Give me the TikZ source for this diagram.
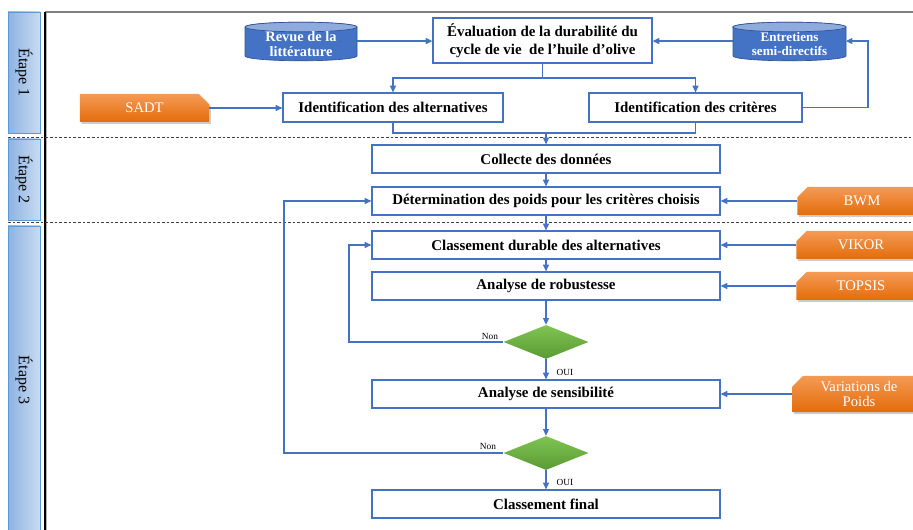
\documentclass[tikz,border=0pt]{standalone}
\usepackage{fontspec}
\setmainfont{Liberation Serif}
\usetikzlibrary{arrows.meta,shapes.geometric,shapes.misc,shadows}
\definecolor{bl}{HTML}{4472C4}
\definecolor{cyltop}{HTML}{8FAADC}
\definecolor{cylbord}{HTML}{2F5597}
\definecolor{orA}{HTML}{F59A55}
\definecolor{orB}{HTML}{E36C0A}
\definecolor{stA}{HTML}{8DB3E2}
\definecolor{stB}{HTML}{C9DBF2}
\definecolor{stborder}{HTML}{5B9BD5}
\definecolor{grA}{HTML}{80C453}
\definecolor{grB}{HTML}{5A9A33}
\newcommand{\apos}{{\char"27}}
\begin{document}
\begin{tikzpicture}[x=0.75pt,y=-0.75pt,
 box/.style={draw=bl, line width=0.9pt, fill=white, inner sep=0pt, align=center, font=\bfseries\fontsize{11.2}{13.5}\selectfont},
 mainbox/.style={box, minimum width=261pt, minimum height=21pt},
 orangebox/.style={chamfered rectangle, chamfered rectangle xsep=4pt, chamfered rectangle ysep=4pt,
   top color=orA, bottom color=orB, draw=none, text=white, font=\fontsize{11}{11.5}\selectfont,
   align=center, inner sep=0pt, minimum width=97pt, minimum height=21pt,
   drop shadow={opacity=0.4, shadow xshift=1.2pt, shadow yshift=-1.5pt}},
 stage/.style={draw=stborder, left color=stA, right color=stB, line width=0.6pt, inner sep=0pt, minimum width=24pt, font=\fontsize{12}{14}\selectfont},
 cylbody/.style={fill=bl, draw=cylbord, line width=0.5pt},
 cyltopst/.style={fill=cyltop, draw=cylbord, line width=0.5pt},
 cyltxt/.style={text=white, inner sep=0pt, align=center, minimum width=84pt, minimum height=24pt},
 arr/.style={draw=bl, line width=0.9pt, -{Triangle[length=5pt,width=4.5pt]}},
 ln/.style={draw=bl, line width=0.9pt},
 dec/.style={diamond, inner sep=0pt, minimum width=63.75pt, minimum height=25.5pt, top color=grA, bottom color=grB, draw=none},
 lab/.style={font=\fontsize{7}{8}\selectfont, inner sep=1pt}
]
\useasboundingbox (0,0) rectangle (913,530);

% frame
\draw[draw=gray, line width=1.2pt] (45,12) -- (913,12);
\draw[black, line width=0.8pt] (45,12) -- (45,530);
\draw[gray!60, line width=0.5pt] (46.5,13) -- (46.5,530);

% stage columns
\node[stage, minimum height=90.75pt] (e1) at (24,72.5) {\rotatebox{-90}{Étape 1}};
\node[stage, minimum height=60.75pt] (e2) at (24,179.5) {\rotatebox{-90}{Étape 2}};
\node[stage, minimum height=231pt] (e3) at (24,380) {\rotatebox{-90}{Étape 3}};

% dashed separators
\draw[black!75, line width=0.6pt, dash pattern=on 2pt off 1.5pt] (8,137) -- (913,137);
\draw[black!75, line width=0.6pt, dash pattern=on 2pt off 1.5pt] (8,222) -- (913,222);

% cylinders
\filldraw[cylbody] (245,27) -- (245,56) arc[start angle=180,end angle=360,x radius=42pt,y radius=3.6pt] -- (357,27) arc[start angle=0,end angle=180,x radius=42pt,y radius=3.6pt] -- cycle;
\filldraw[cyltopst] (301,27) ellipse[x radius=42pt,y radius=3.6pt];
\node[cyltxt, font=\bfseries\fontsize{10.8}{11.5}\selectfont] (rev) at (301,44) {Revue de la\\littérature};

\filldraw[cylbody] (733,27) -- (733,56) arc[start angle=180,end angle=360,x radius=42.4pt,y radius=3.6pt] -- (846,27) arc[start angle=0,end angle=180,x radius=42.4pt,y radius=3.6pt] -- cycle;
\filldraw[cyltopst] (789.5,27) ellipse[x radius=42.4pt,y radius=3.6pt];
\node[cyltxt, font=\bfseries\fontsize{9.8}{10.2}\selectfont] (ent) at (789.5,44) {Entretiens\\semi-directifs};

% main boxes
\node[box, minimum width=164.25pt, minimum height=33.75pt] (eval) at (542.5,40.5) {Évaluation de la durabilité du\\cycle de vie\ \ de l\apos huile d\apos olive};
\node[box, minimum width=165pt, minimum height=21.75pt] (alt) at (393,107.5) {Identification des alternatives};
\node[box, minimum width=159.75pt, minimum height=21.75pt] (crit) at (695.5,107.5) {Identification des critères};
\node[mainbox] (col) at (546,159) {Collecte des données};
\node[mainbox] (det) at (546,201) {Détermination des poids pour les critères choisis};
\node[mainbox] (cd) at (546,245) {Classement durable des alternatives};
\node[mainbox] (rob) at (546,286) {Analyse de robustesse};
\node[dec] (d1) at (546,342) {};
\node[mainbox] (sens) at (546,394) {Analyse de sensibilité};
\node[dec] (d2) at (546,453) {};
\node[mainbox] (fin) at (546,504) {Classement final};

% orange method boxes
\node[orangebox, chamfered rectangle corners=north east] (sadt) at (144.5,108) {SADT};
\node[orangebox, chamfered rectangle corners=north west] (bwm) at (862,201) {BWM};
\node[orangebox, chamfered rectangle corners=north west] (vik) at (861,245) {VIKOR};
\node[orangebox, chamfered rectangle corners=north west] (top) at (861,286) {TOPSIS};
\node[orangebox, chamfered rectangle corners=north west, minimum width=100pt, minimum height=27pt] (var) at (859,394) {Variations de\\Poids};

% labels
\node[lab] (non1) at (490,336) {Non};
\node[lab] (oui1) at (565,372) {OUI};
\node[lab] (non2) at (488,446) {Non};
\node[lab] (oui2) at (565,482) {OUI};

% connectors
\coordinate (revE) at ([yshift=2.2pt]rev.east);
\coordinate (entW) at ([yshift=2.2pt]ent.west);
\coordinate (entE) at ([yshift=2.2pt]ent.east);
\draw[arr] (revE) -- (eval.west |- revE);
\draw[arr] (entW) -- (eval.east |- entW);
\coordinate (j1) at (542.5,78);
\draw[ln] (eval.south) -- (j1);
\draw[arr] (j1) -| (alt.north);
\draw[arr] (j1) -| (crit.north);
\draw[arr] (sadt.east) -- (alt.west |- sadt.east);
\coordinate (c1) at (868,107.5);
\draw[arr] (crit.east) -- (c1) |- (entE);
\coordinate (j2) at (546,133);
\draw[ln] (alt.south) |- (j2);
\draw[ln] (crit.south) |- (j2);
\draw[arr] (j2) -- (col.north);
\draw[arr] (col) -- (det);
\draw[arr] (det) -- (cd);
\draw[arr] (cd) -- (rob);
\draw[arr] (rob) -- (d1);
\draw[arr] (d1) -- (sens);
\draw[arr] (sens) -- (d2);
\draw[arr] (d2) -- (fin);
\coordinate (l1) at (349,342);
\draw[arr] (d1.west) -- (l1) |- (cd.west);
\coordinate (l2) at (284,453);
\draw[arr] (d2.west) -- (l2) |- (det.west);
\draw[arr] (bwm.west) -- (det.east |- bwm.west);
\draw[arr] (vik.west) -- (cd.east |- vik.west);
\draw[arr] (top.west) -- (rob.east |- top.west);
\draw[arr] (var.west) -- (sens.east |- var.west);
\end{tikzpicture}
\end{document}
